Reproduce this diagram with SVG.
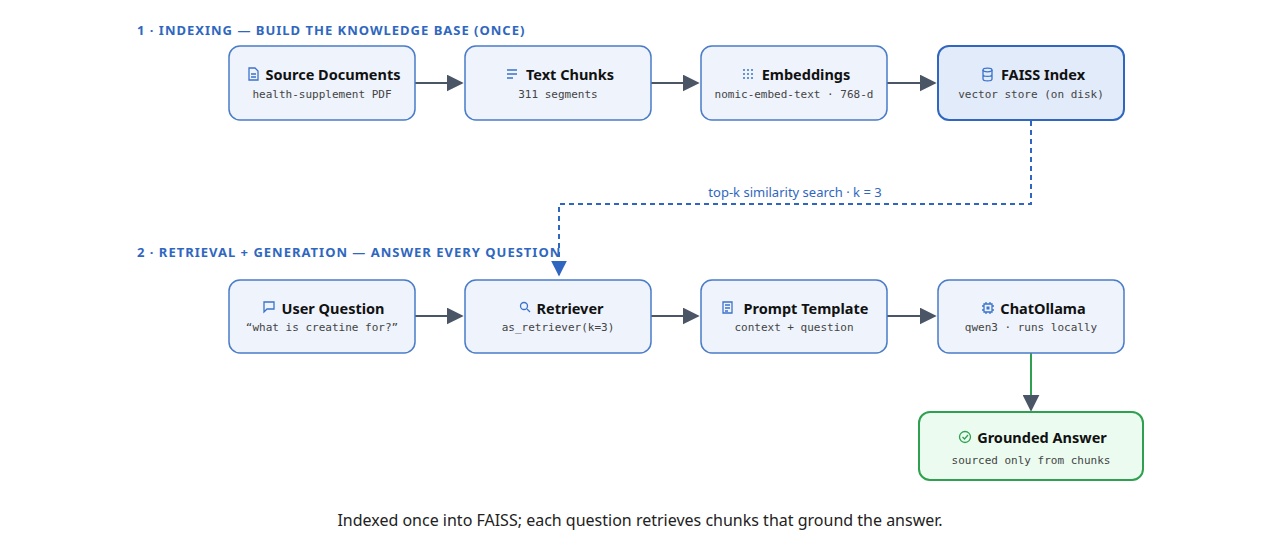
<svg xmlns="http://www.w3.org/2000/svg" width="1280" height="548" viewBox="0 0 1280 548">
<style>
.sec{font-family:"Noto Sans",sans-serif;font-weight:700;font-size:13px;fill:#2f67c0;letter-spacing:1px}
.box{fill:#eef3fc;stroke:#4a7cc7;stroke-width:1.5}
.boxh{fill:#e2ebf9;stroke:#2f67c0;stroke-width:2}
.boxg{fill:#ebfbef;stroke:#2ea04f;stroke-width:2}
.t{font-family:"Noto Sans",sans-serif;font-weight:700;font-size:14.5px;fill:#111;text-anchor:middle}
.s{font-family:"DejaVu Sans Mono","Liberation Mono",monospace;font-size:11px;fill:#444;text-anchor:middle}
.ic{fill:none;stroke:#3b73cc;stroke-width:1.3}
.con{stroke:#4a5566;stroke-width:2;fill:none}
</style>
<defs>
<marker id="ahb" viewBox="0 0 10 10" refX="9" refY="5" markerWidth="16" markerHeight="16" markerUnits="userSpaceOnUse" orient="auto"><path d="M0,0L10,5L0,10z" fill="#2f67c0"/></marker>
<marker id="ah2" viewBox="0 0 10 10" refX="9" refY="5" markerWidth="17" markerHeight="17" markerUnits="userSpaceOnUse" orient="auto"><path d="M0,0L10,5L0,10z" fill="#4a5566"/></marker>
</defs>
<rect width="1280" height="548" fill="#fff"/>
<text class="sec" x="137" y="35">1 · INDEXING — BUILD THE KNOWLEDGE BASE (ONCE)</text>
<text class="sec" x="137" y="257">2 · RETRIEVAL + GENERATION — ANSWER EVERY QUESTION</text>
<g id="connectors">
<path class="con" d="M415,83H462" marker-end="url(#ah2)"/>
<path class="con" d="M651,83H698" marker-end="url(#ah2)"/>
<path class="con" d="M887,83H935" marker-end="url(#ah2)"/>
<path class="con" d="M415,316H462" marker-end="url(#ah2)"/>
<path class="con" d="M651,316H698" marker-end="url(#ah2)"/>
<path class="con" d="M887,316H935" marker-end="url(#ah2)"/>
<path d="M1031,121V204H559V275" stroke="#2f67c0" stroke-width="2" stroke-dasharray="5,4" fill="none" marker-end="url(#ahb)"/>
<path d="M1031,353V410" stroke="#2ea04f" stroke-width="2" fill="none" marker-end="url(#ah2)"/>
<text x="795" y="197" font-family="Noto Sans,sans-serif" font-size="13" fill="#2f67c0" text-anchor="middle">top-k similarity search · k = 3</text>
</g>
<g id="source"><rect class="box" x="229" y="46" width="186" height="74" rx="11"/>
<path class="ic" d="M249,68h6l3,3v9h-9z M251,74h5 M251,77h5"/>
<text class="t" x="333" y="80">Source Documents</text><text class="s" x="322" y="98">health-supplement PDF</text></g>
<g id="chunks"><rect class="box" x="465" y="46" width="186" height="74" rx="11"/>
<path class="ic" d="M507,70h10 M507,74h10 M507,78h6"/>
<text class="t" x="570" y="80">Text Chunks</text><text class="s" x="558" y="98">311 segments</text></g>
<g id="embed"><rect class="box" x="701" y="46" width="186" height="74" rx="11"/>
<g fill="#3b73cc"><circle cx="744" cy="70" r="1"/><circle cx="748" cy="70" r="1"/><circle cx="752" cy="70" r="1"/><circle cx="744" cy="74" r="1"/><circle cx="748" cy="74" r="1"/><circle cx="752" cy="74" r="1"/><circle cx="744" cy="78" r="1"/><circle cx="748" cy="78" r="1"/><circle cx="752" cy="78" r="1"/></g>
<text class="t" x="806" y="80">Embeddings</text><text class="s" x="794" y="98">nomic-embed-text · 768-d</text></g>
<g id="faiss"><rect class="boxh" x="938" y="46" width="186" height="74" rx="11"/>
<path class="ic" d="M983,70v9c0,2.5 9,2.5 9,0v-9 M983,74.5c0,2.5 9,2.5 9,0"/><ellipse class="ic" cx="987.5" cy="70" rx="4.5" ry="1.8"/>
<text class="t" x="1043" y="80">FAISS Index</text><text class="s" x="1031" y="98">vector store (on disk)</text></g>
<g id="question"><rect class="box" x="229" y="280" width="186" height="73" rx="11"/>
<path class="ic" d="M264,302h10v7h-7l-3,3z"/>
<text class="t" x="333" y="314">User Question</text><text class="s" x="322" y="331">“what is creatine for?”</text></g>
<g id="retriever"><rect class="box" x="465" y="280" width="186" height="73" rx="11"/>
<circle class="ic" cx="524" cy="306" r="3.5"/><path class="ic" d="M527,309l3,3"/>
<text class="t" x="570" y="314">Retriever</text><text class="s" x="558" y="331">as_retriever(k=3)</text></g>
<g id="prompt"><rect class="box" x="701" y="280" width="186" height="73" rx="11"/>
<path class="ic" d="M723,302h9v11h-9z M725,305h5 M725,308h5 M725,311h3"/>
<text class="t" x="806" y="314">Prompt Template</text><text class="s" x="794" y="331">context + question</text></g>
<g id="chat"><rect class="box" x="938" y="280" width="186" height="73" rx="11"/>
<path class="ic" d="M984,304h8v8h-8z M986,302v2 M990,302v2 M986,312v2 M990,312v2 M982,306h2 M982,310h2 M992,306h2 M992,310h2"/><rect x="986.5" y="306.5" width="3" height="3" fill="#3b73cc"/>
<text class="t" x="1043" y="314">ChatOllama</text><text class="s" x="1031" y="331">qwen3 · runs locally</text></g>
<g id="answer"><rect class="boxg" x="919" y="412" width="224" height="68" rx="11"/>
<circle cx="965" cy="437" r="5.5" fill="none" stroke="#2ea04f" stroke-width="1.3"/><path d="M962.5,437l2,2l3.5,-4" fill="none" stroke="#2ea04f" stroke-width="1.3"/>
<text class="t" x="1042" y="443">Grounded Answer</text><text class="s" x="1031" y="464">sourced only from chunks</text></g>
<text x="640" y="526" font-family="Noto Sans,sans-serif" font-size="16" fill="#222" text-anchor="middle">Indexed once into FAISS; each question retrieves chunks that ground the answer.</text>
</svg>
